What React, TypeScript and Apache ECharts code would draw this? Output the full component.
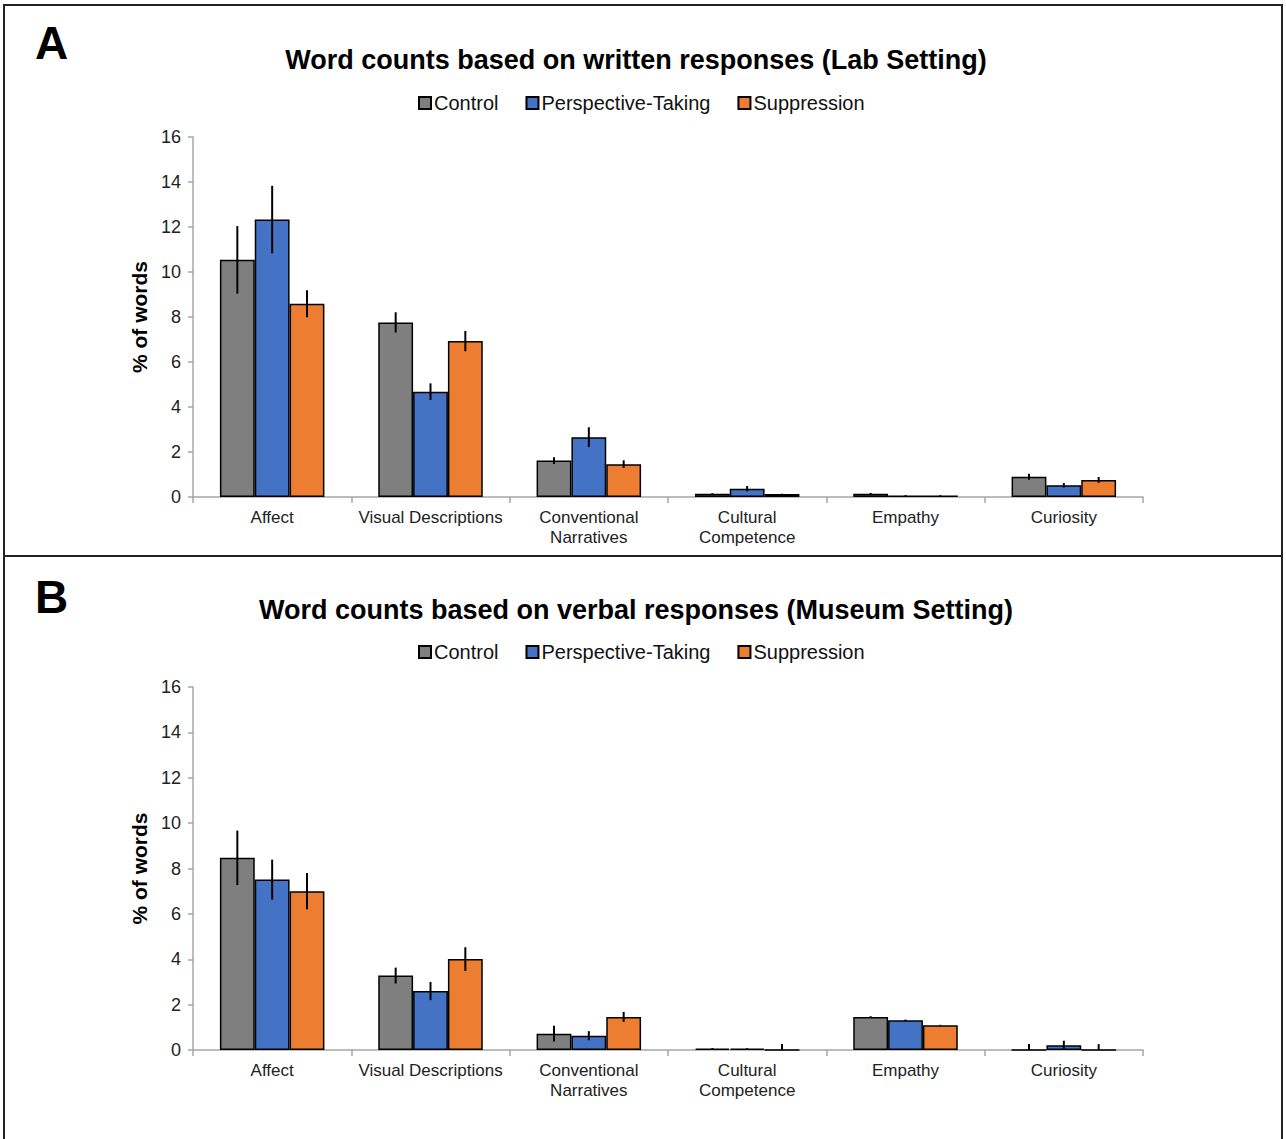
import React, { useEffect, useRef } from "react";
import * as echarts from "echarts";

const categories = [
  "Affect",
  "Visual Descriptions",
  "Conventional\nNarratives",
  "Cultural\nCompetence",
  "Empathy",
  "Curiosity",
];
const seriesNames = ["Control", "Perspective-Taking", "Suppression"];
const colors = ["#7F7F7F", "#4472C4", "#ED7D31"];
const yTicks = { min: 0, max: 16, interval: 2 };

// Panel A (Lab Setting, written responses)
const labControl = [10.54, 7.76, 1.62, 0.15, 0.15, 0.9];
const labPerspective = [12.33, 4.68, 2.66, 0.37, 0.07, 0.52];
const labSuppression = [8.59, 6.93, 1.46, 0.13, 0.07, 0.76];
const labControlErr = [1.5, 0.45, 0.15, 0.02, 0.03, 0.13];
const labPerspectiveErr = [1.5, 0.37, 0.44, 0.12, 0.02, 0.1];
const labSuppressionErr = [0.6, 0.45, 0.17, 0.02, 0.02, 0.13];

// Panel B (Museum Setting, verbal responses)
const musControl = [8.47, 3.28, 0.72, 0.06, 1.46, 0];
const musPerspective = [7.51, 2.6, 0.63, 0.06, 1.31, 0.21];
const musSuppression = [7.0, 4.01, 1.46, 0, 1.09, 0];
const musControlErr = [1.2, 0.35, 0.35, 0.03, 0.03, 0.26];
const musPerspectiveErr = [0.88, 0.4, 0.2, 0.02, 0.03, 0.2];
const musSuppressionErr = [0.8, 0.52, 0.22, 0.26, 0.02, 0.26];

const titleA = "Word counts based on written responses (Lab Setting)";
const titleB = "Word counts based on verbal responses (Museum Setting)";

const BAR_FRAC = 0.22;
const FONT = '"Liberation Sans", Arial, Helvetica, sans-serif';

export default function App() {
  const ref = useRef<HTMLDivElement>(null);

  useEffect(() => {
    if (!ref.current) return;
    document.body.style.margin = "0";
    const chart = echarts.init(ref.current, undefined, { renderer: "svg" });

    const panels = [
      {
        vals: [labControl, labPerspective, labSuppression],
        errs: [labControlErr, labPerspectiveErr, labSuppressionErr],
      },
      {
        vals: [musControl, musPerspective, musSuppression],
        errs: [musControlErr, musPerspectiveErr, musSuppressionErr],
      },
    ];

    const series: any[] = [];
    panels.forEach((p, gi) => {
      p.vals.forEach((vals, si) => {
        series.push({
          type: "bar",
          name: seriesNames[si],
          xAxisIndex: gi,
          yAxisIndex: gi,
          data: vals,
          barWidth: "22%",
          barGap: "0%",
          itemStyle: { color: colors[si], borderColor: "#000", borderWidth: 1.5 },
          emphasis: { disabled: true },
        });
      });
      p.vals.forEach((vals, si) => {
        series.push({
          type: "custom",
          xAxisIndex: gi,
          yAxisIndex: gi,
          silent: true,
          z: 5,
          data: vals.map((v, ci) => [ci, v, p.errs[si][ci]]),
          encode: { x: 0, y: 1 },
          renderItem: (params: any, api: any) => {
            const ci = api.value(0);
            const v = api.value(1);
            const e = api.value(2);
            const band = api.size([1, 0])[0];
            const off = (si - 1) * band * BAR_FRAC;
            const top = api.coord([ci, v + e]);
            const bot = api.coord([ci, Math.max(v - e, 0)]);
            const x = top[0] + off;
            return {
              type: "line",
              shape: { x1: x, y1: top[1], x2: x, y2: bot[1] },
              style: { stroke: "#000", lineWidth: 2 },
            };
          },
        });
      });
    });

    const grids = [
      { left: 193, right: 143, top: 137, height: 360 },
      { left: 193, right: 143, top: 687, height: 363 },
    ];

    const axisColor = "#A6A6A6";

    const option: any = {
      animation: false,
      backgroundColor: "#fff",
      textStyle: { fontFamily: FONT },
      grid: grids,
      legend: [88, 637].map((top) => ({
        top,
        left: 413,
        data: seriesNames,
        icon: "rect",
        itemWidth: 12,
        itemHeight: 12,
        itemGap: 27,
        selectedMode: false,
        textStyle: { fontSize: 20, color: "#111", fontFamily: FONT, padding: [0, 0, 0, -2] },
      })),
      xAxis: [0, 1].map((gi) => ({
        type: "category",
        gridIndex: gi,
        data: categories,
        axisLine: { show: true, lineStyle: { color: axisColor, width: 1.5 } },
        axisTick: { show: true, alignWithLabel: false, length: 6, lineStyle: { color: axisColor, width: 1.5 } },
        axisLabel: {
          interval: 0,
          fontSize: 17,
          lineHeight: 20,
          color: "#222",
          margin: 10,
          fontFamily: FONT,
        },
        splitLine: { show: false },
      })),
      yAxis: [0, 1].map((gi) => ({
        type: "value",
        gridIndex: gi,
        min: yTicks.min,
        max: yTicks.max,
        interval: yTicks.interval,
        name: "% of words",
        nameLocation: "middle",
        nameRotate: 90,
        nameGap: 38,
        nameTextStyle: { fontSize: 21, fontWeight: "bold", color: "#000", fontFamily: FONT },
        axisLine: { show: true, lineStyle: { color: axisColor, width: 1.5 } },
        axisTick: { show: true, length: 5, lineStyle: { color: axisColor, width: 1.5 } },
        axisLabel: { fontSize: 18, color: "#222", margin: 12, fontFamily: FONT },
        splitLine: { show: false },
      })),
      series,
      graphic: [
        {
          type: "rect",
          shape: { x: 4, y: 5, width: 1278, height: 1160 },
          style: { fill: "none", stroke: "#222", lineWidth: 2 },
          silent: true,
        },
        {
          type: "line",
          shape: { x1: 4, y1: 556, x2: 1282, y2: 556 },
          style: { stroke: "#222", lineWidth: 2 },
          silent: true,
        },
        {
          type: "text",
          x: 35,
          y: 43,
          style: { text: "A", fontSize: 46, fontWeight: "bold", fontFamily: FONT, fill: "#000", verticalAlign: "middle" },
        },
        {
          type: "text",
          x: 35,
          y: 597,
          style: { text: "B", fontSize: 46, fontWeight: "bold", fontFamily: FONT, fill: "#000", verticalAlign: "middle" },
        },
        {
          type: "text",
          x: 636,
          y: 60,
          style: { text: titleA, fontSize: 27, fontWeight: "bold", fontFamily: FONT, fill: "#000", align: "center", verticalAlign: "middle" },
        },
        {
          type: "text",
          x: 636,
          y: 610,
          style: { text: titleB, fontSize: 27, fontWeight: "bold", fontFamily: FONT, fill: "#000", align: "center", verticalAlign: "middle" },
        },
      ],
    };

    chart.setOption(option);
    return () => chart.dispose();
  }, []);

  return (
    <div
      ref={ref}
      style={{ position: "absolute", left: 0, top: 0, width: 1286, height: 1139 }}
    />
  );
}
